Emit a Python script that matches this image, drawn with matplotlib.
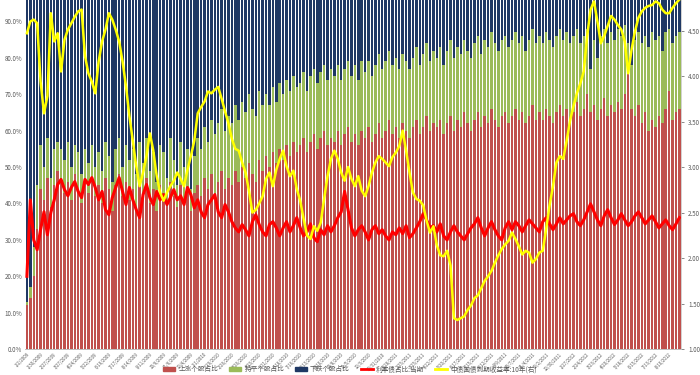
import numpy as np
import pandas as pd
import matplotlib
matplotlib.use("Agg")
import matplotlib.pyplot as plt
from matplotlib.patches import Patch
from matplotlib.lines import Line2D
from matplotlib.ticker import FuncFormatter

plt.rcParams['font.family'] = ['Noto Sans CJK SC', 'DejaVu Sans']

# ---------------------------------------------------------------------------
# data (one value per weekly bar)
# ---------------------------------------------------------------------------
dates = pd.date_range("2009-01-02", periods=192, freq="7D")
date_labels = [f"{d.month}/{d.day}/{d.year}" for d in dates]

# bottom (red) share, %
red_share = [
    12, 14, 20, 33, 44, 41, 47, 39, 45, 49,
    47, 43, 46, 41, 48, 44, 40, 46, 43, 47,
    42, 45, 40, 47, 44, 38, 45, 48, 42, 46,
    41, 44, 39, 46, 42, 47, 40, 44, 38, 45,
    43, 40, 46, 42, 39, 45, 41, 44, 38, 43,
    45, 42, 47, 44, 48, 43, 46, 49, 44, 47,
    45, 49, 46, 50, 47, 51, 48, 46, 52, 49,
    53, 50, 54, 51, 55, 52, 56, 53, 57, 54,
    56, 58, 54, 57, 59, 55, 58, 60, 56, 58,
    57, 60, 56, 59, 61, 57, 59, 56, 60, 58,
    61, 57, 59, 62, 58, 60, 63, 59, 61, 58,
    62, 60, 58, 61, 63, 59, 61, 64, 60, 62,
    61, 63, 59, 62, 64, 60, 63, 61, 65, 62,
    60, 63, 65, 61, 64, 62, 66, 63, 61, 64,
    65, 62, 64, 66, 63, 65, 62, 64, 67, 63,
    65, 63, 66, 64, 62, 65, 67, 64, 66, 63,
    65, 68, 64, 66, 70, 65, 67, 63, 66, 69,
    64, 67, 65, 68, 66, 70, 76, 66, 64, 67,
    62, 65, 60, 63, 61, 64, 62, 66, 71, 63,
    65, 66,
]

# red + green (cumulative top of green), %
red_green_share = [
    13, 17, 28, 45, 56, 50, 58, 47, 55, 57,
    55, 52, 57, 50, 56, 54, 48, 55, 51, 56,
    50, 54, 49, 57, 53, 46, 55, 58, 50, 56,
    52, 55, 48, 57, 51, 58, 49, 54, 46, 56,
    54, 47, 58, 52, 45, 57, 50, 55, 44, 53,
    58, 55, 61, 57, 63, 59, 62, 66, 60, 64,
    62, 67, 63, 68, 65, 70, 66, 64, 71, 67,
    70, 67, 72, 68, 73, 70, 74, 71, 75, 72,
    73, 76, 71, 75, 77, 73, 76, 78, 74, 77,
    75, 78, 74, 77, 79, 75, 78, 74, 79, 76,
    79, 75, 78, 81, 77, 79, 82, 78, 80, 77,
    81, 79, 77, 80, 83, 78, 81, 84, 79, 82,
    80, 83, 78, 82, 85, 80, 83, 81, 85, 82,
    80, 84, 86, 81, 85, 83, 87, 84, 82, 85,
    86, 83, 85, 87, 84, 86, 82, 85, 88, 84,
    86, 84, 87, 85, 83, 86, 88, 85, 87, 84,
    86, 88, 84, 86, 88, 77, 85, 80, 86, 88,
    84, 87, 85, 88, 86, 89, 84, 78, 85, 87,
    84, 86, 83, 87, 85, 86, 82, 87, 88, 84,
    86, 87,
]

# red line, % (left axis)
red_line = [
    20, 41, 30, 27.3, 32.8, 37.7, 31.4, 37.5, 41, 45.2,
    46.6, 43.8, 42.1, 44.4, 46, 43.3, 41.6, 46.6, 45.2, 47.1,
    44.4, 41, 43.3, 38.3, 36.9, 41.6, 44.4, 47.1, 43.3, 39.7,
    44.4, 41, 38.3, 36.1, 42.4, 45.2, 41.6, 39.7, 43.3, 41,
    42.4, 39.7, 41.6, 43.8, 41, 42.1, 39.7, 44.4, 42.4, 38.8,
    41, 37.7, 36.1, 39.7, 41, 42.4, 37.7, 36.1, 39.7, 37.7,
    35, 33.3, 32.2, 34.2, 32.8, 31.1, 35, 36.9, 34.2, 32.2,
    31.1, 34.2, 35, 33.3, 31.1, 33.3, 35, 32.2, 33.9, 36.1,
    33.3, 31.1, 32.2, 34.4, 30.6, 29.5, 32.8, 31.4, 33.9, 32.2,
    33.9, 36.1, 37.7, 43.3, 38.3, 33.3, 31.1, 32.8, 33.9, 32.2,
    30, 32.8, 33.9, 31.7, 32.8, 31.1, 30, 32.2, 31.4, 33.3,
    31.7, 33.9, 30.6, 31.7, 33.3, 35, 37.2, 35.5, 33.3, 33.9,
    32.2, 34.4, 31.1, 30, 32.2, 33.9, 32.2, 31.1, 30, 31.7,
    33.3, 34.4, 36.1, 33.3, 31.1, 33.3, 35, 32.8, 31.1, 30,
    33.3, 35, 32.8, 35, 33.9, 32.2, 33.9, 35.5, 34.4, 33.3,
    32.2, 35, 36.1, 34.4, 32.8, 34.4, 36.1, 34.4, 35.5, 36.6,
    37.2, 35, 33.9, 35.5, 37.7, 39.9, 37.7, 35.5, 33.9, 36.6,
    38.3, 36.1, 34.2, 35.5, 37.2, 35.5, 33.9, 35, 36.6, 37.7,
    36.1, 34.4, 35.5, 36.6, 35, 33.3, 34.4, 35.5, 33.9, 32.8,
    34.4, 36.1,
]

# yellow line (right axis)
yellow_line = [
    4.47, 4.60, 4.62, 4.58, 3.94, 3.59, 3.78, 4.69, 4.38, 4.47,
    4.05, 4.40, 4.51, 4.58, 4.65, 4.71, 4.73, 4.22, 4.03, 3.94,
    3.81, 4.16, 4.38, 4.51, 4.69, 4.62, 4.51, 4.38, 4.16, 3.89,
    3.56, 3.29, 3.01, 2.79, 2.94, 3.12, 3.37, 3.18, 2.90, 2.72,
    2.63, 2.72, 2.79, 2.85, 2.94, 2.87, 2.79, 2.97, 3.12, 3.29,
    3.59, 3.66, 3.72, 3.83, 3.81, 3.85, 3.88, 3.75, 3.61, 3.48,
    3.31, 3.20, 3.18, 3.05, 2.94, 2.74, 2.50, 2.53, 2.60, 2.68,
    2.87, 2.94, 2.79, 2.97, 3.09, 3.18, 3.01, 2.90, 2.96, 2.76,
    2.63, 2.43, 2.25, 2.21, 2.35, 2.30, 2.39, 2.65, 2.90, 3.09,
    3.18, 3.09, 2.94, 2.85, 3.00, 2.87, 2.79, 2.90, 2.74, 2.68,
    2.79, 2.94, 3.05, 3.12, 3.09, 3.05, 3.01, 3.11, 3.16, 3.23,
    3.40, 3.18, 2.94, 2.72, 2.65, 2.63, 2.58, 2.41, 2.28, 2.35,
    2.14, 2.03, 2.02, 2.08, 1.92, 1.34, 1.32, 1.34, 1.36, 1.43,
    1.48, 1.56, 1.59, 1.67, 1.75, 1.80, 1.86, 1.95, 2.03, 2.10,
    2.15, 2.19, 2.28, 2.21, 2.13, 2.04, 2.08, 2.06, 1.95, 1.99,
    2.06, 2.08, 2.32, 2.58, 2.79, 3.05, 3.12, 3.09, 3.29, 3.51,
    3.67, 3.81, 3.92, 4.05, 4.44, 4.73, 4.82, 4.60, 4.36, 4.44,
    4.55, 4.66, 4.62, 4.56, 4.51, 4.38, 4.03, 4.29, 4.49, 4.64,
    4.71, 4.75, 4.77, 4.78, 4.82, 4.80, 4.73, 4.69, 4.69, 4.75,
    4.80, 4.84,
]

legend_labels = ["上涨个股占比", "持平个股占比", "下跌个股占比",
                 "利率债占比:当期", "中债国债到期收益率:10年(右)"]

RED = "#c0504d"
GREEN = "#9bbb59"
NAVY = "#1f3864"
TXT = "#595959"

# ---------------------------------------------------------------------------
# build the stacked shares
# ---------------------------------------------------------------------------
red = np.array(red_share) / 100.0
green = np.array(red_green_share) / 100.0 - red
navy = 1.0 - red - green
x = np.arange(len(red))

fig = plt.figure(figsize=(7, 3.75), dpi=100)
ax = fig.add_axes([0.036, 0.069, 0.937, 0.971])

ax.bar(x, red, width=0.72, color=RED, linewidth=0)
ax.bar(x, green, width=0.72, bottom=red, color=GREEN, linewidth=0)
ax.bar(x, navy, width=0.72, bottom=red + green, color=NAVY, linewidth=0)
ax.plot(x, np.array(red_line) / 100.0, color="#ff0000", lw=2.2, zorder=5)

ax.set_xlim(-0.5, len(x) - 0.5)
ax.set_ylim(0, 1)
ax.set_yticks(np.arange(0, 0.91, 0.1))
ax.yaxis.set_major_formatter(FuncFormatter(lambda v, p: f"{v * 100:.1f}%"))
ax.tick_params(axis='y', labelsize=4.5, colors=TXT, length=0, pad=2)

ax.set_xticks(x[::4])
ax.set_xticklabels(date_labels[::4], rotation=45, ha='right',
                   rotation_mode='anchor', fontsize=3.2, color=TXT)
ax.tick_params(axis='x', length=0, pad=2)

ax2 = ax.twinx()
ax2.plot(x, yellow_line, color="#ffff00", lw=1.8, zorder=6)
ax2.set_ylim(1, 5)
ax2.set_yticks(np.arange(1, 4.51, 0.5))
ax2.yaxis.set_major_formatter(FuncFormatter(lambda v, p: f"{v:.2f}"))
ax2.tick_params(axis='y', labelsize=4.5, colors=TXT, length=2, width=0.5, pad=3)

for a in (ax, ax2):
    for s in ("top", "left", "right"):
        a.spines[s].set_visible(False)
    a.spines["bottom"].set_color("#bfbfbf")
    a.spines["bottom"].set_linewidth(0.6)
ax2.spines["right"].set_visible(True)
ax2.spines["right"].set_color("#bfbfbf")
ax2.spines["right"].set_linewidth(0.5)

handles = [Patch(color=RED), Patch(color=GREEN), Patch(color=NAVY),
           Line2D([], [], color="#ff0000", lw=2),
           Line2D([], [], color="#ffff00", lw=2)]
fig.legend(handles, legend_labels, loc="lower center", ncol=5,
           bbox_to_anchor=(0.5, -0.012), frameon=False, fontsize=4.8,
           handlelength=1.8, handleheight=0.6, columnspacing=1.6,
           handletextpad=0.5, labelcolor=TXT)

fig.savefig("out.png", dpi=100)
